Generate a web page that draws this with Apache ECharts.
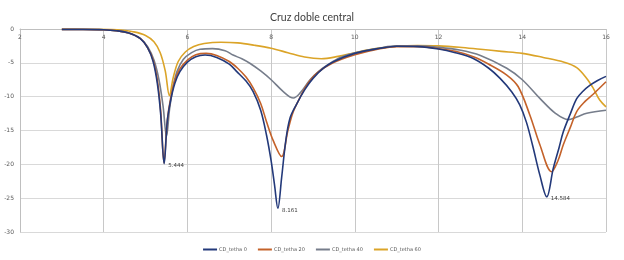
<!DOCTYPE html>
<html>
<head>
<meta charset="utf-8">
<script src="https://cdn.jsdelivr.net/npm/echarts@6/dist/echarts.min.js"></script>
<style>
  html, body { margin: 0; padding: 0; background: #fff; }
  #chart { width: 624px; height: 260px; }
</style>
</head>
<body>
<div id="chart"></div>
<script>
'use strict';

var seriesNames = ['CD_tetha 0', 'CD_tetha 20', 'CD_tetha 40', 'CD_tetha 60'];
var seriesColors = ['#23397a', '#c4622a', '#767d8b', '#dba428'];

// frequency (x) and level (y), one pair of arrays per curve
var freq0 = [3.0, 3.5, 4.0, 4.3, 4.6, 4.87, 5.05, 5.18, 5.28, 5.36, 5.444, 5.52, 5.6, 5.7, 5.82, 6.0, 6.2, 6.42, 6.7, 7.0, 7.18, 7.4, 7.57, 7.75, 7.89, 8.0, 8.08, 8.161, 8.25, 8.35, 8.45, 8.6, 8.8, 9.0, 9.25, 9.5, 10.0, 10.6, 11.0, 11.5, 12.0, 12.4, 12.83, 13.2, 13.47, 13.75, 13.94, 14.1, 14.25, 14.42, 14.584, 14.74, 14.88, 14.98, 15.15, 15.3, 15.45, 15.62, 15.8, 16.0];
var level0 = [-0.05, -0.05, -0.1, -0.25, -0.6, -1.4, -2.8, -4.8, -8, -12.5, -19.9, -13.5, -10.5, -8, -6.3, -4.9, -4.1, -3.85, -4.2, -5.2, -6.3, -7.7, -9.25, -12, -15.7, -19.5, -23, -26.5, -22, -16.5, -13.2, -11.2, -9, -7.3, -5.8, -4.8, -3.6, -2.85, -2.55, -2.6, -2.95, -3.5, -4.35, -5.8, -7.3, -9.3, -11.2, -13.8, -17.3, -21.6, -24.8, -20.6, -17.5, -15.2, -12.5, -10.3, -9.2, -8.3, -7.6, -7.0];

var freq20 = [3.0, 3.5, 4.0, 4.3, 4.6, 4.87, 5.05, 5.18, 5.28, 5.36, 5.44, 5.52, 5.6, 5.7, 5.82, 6.0, 6.2, 6.45, 6.7, 7.0, 7.2, 7.4, 7.57, 7.75, 7.89, 8.05, 8.25, 8.4, 8.53, 8.7, 8.85, 9.1, 9.48, 10.0, 10.6, 11.0, 11.5, 12.0, 12.4, 12.83, 13.2, 13.63, 13.9, 14.18, 14.42, 14.7, 14.85, 14.98, 15.15, 15.3, 15.5, 15.7, 16.0];
var level20 = [-0.05, -0.05, -0.1, -0.25, -0.6, -1.4, -2.8, -4.6, -7.5, -12, -19.8, -13.5, -10.2, -7.6, -5.9, -4.6, -3.8, -3.6, -3.9, -4.8, -5.8, -7.1, -8.7, -11, -13.7, -16.5, -18.85, -15, -12.2, -10, -8.3, -6.5, -5.0, -3.8, -2.9, -2.6, -2.6, -2.9, -3.3, -4.1, -5.2, -6.8, -8.5, -12.7, -17.1, -21.1, -19.5, -17.1, -14.5, -12.2, -10.7, -9.6, -7.8];

var freq40 = [3.0, 3.5, 4.0, 4.3, 4.6, 4.87, 5.05, 5.2, 5.32, 5.42, 5.5, 5.57, 5.65, 5.75, 5.9, 6.1, 6.3, 6.6, 6.9, 7.09, 7.3, 7.5, 7.75, 8.0, 8.29, 8.53, 8.7, 8.93, 9.15, 9.33, 9.65, 10.0, 10.6, 11.0, 11.5, 12.0, 12.5, 13.0, 13.63, 14.0, 14.42, 14.8, 15.1, 15.3, 15.54, 16.0];
var level40 = [-0.05, -0.05, -0.1, -0.25, -0.6, -1.4, -2.6, -4.6, -7.5, -11.5, -15.9, -12, -8.8, -6.3, -4.5, -3.5, -3.0, -2.9, -3.2, -3.85, -4.4, -5.1, -6.2, -7.5, -9.25, -10.2, -9.4, -7.5, -6.2, -5.4, -4.2, -3.5, -2.8, -2.5, -2.5, -2.7, -3.1, -3.9, -5.8, -7.5, -10.25, -12.5, -13.4, -13.0, -12.45, -12.0];

var freq60 = [3.0, 3.5, 4.0, 4.4, 4.7, 5.0, 5.2, 5.35, 5.47, 5.57, 5.66, 5.78, 5.95, 6.15, 6.4, 6.8, 7.2, 7.6, 8.0, 8.4, 8.8, 9.2, 9.6, 10.0, 10.5, 11.0, 11.5, 12.0, 12.5, 13.0, 13.5, 14.0, 14.5, 15.0, 15.3, 15.54, 15.7, 15.85, 16.0];
var level60 = [-0.02, -0.03, -0.05, -0.15, -0.4, -0.95, -1.9, -3.5, -6.2, -9.85, -7.2, -4.8, -3.4, -2.6, -2.15, -1.95, -2.05, -2.4, -2.85, -3.5, -4.15, -4.4, -4.05, -3.5, -2.9, -2.55, -2.45, -2.5, -2.7, -3.0, -3.3, -3.6, -4.2, -4.9, -5.7, -7.3, -8.8, -10.5, -11.5];

// minima of CD_tetha 0 that carry a text label
var markedFreqs = [5.444, 8.161, 14.584];
var markedLevels = [-19.9, -26.5, -24.8];

var xTicks = { min: 2, max: 16, step: 2 };
var yTicks = { min: -30, max: 0, step: 5 };

var allFreqs = [freq0, freq20, freq40, freq60];
var allLevels = [level0, level20, level40, level60];

function pairs(freqs, levels){
    return freqs.map(function(f, i){ return [f, levels[i]]; });
}

var myChart = echarts.init(document.getElementById('chart'), null, { renderer: 'canvas' });

var option = {
    animation: false,
    backgroundColor: '#fff',
    title: {
        text: 'Cruz doble central',
        left: 'center',
        top: 7,
        textStyle: { fontSize: 10.5, fontWeight: 'normal', color: '#404040', fontFamily: 'Lato' }
    },
    legend: {
        top: 242,
        left: 'center',
        itemWidth: 14,
        itemHeight: 2,
        itemGap: 11,
        icon: 'rect',
        textStyle: { fontSize: 5, color: '#595959', fontFamily: 'DejaVu Sans', padding: [0, 0, 0, -3] },
        data: seriesNames
    },
    grid: { left: 20, right: 18, top: 29, bottom: 28, containLabel: false },
    xAxis: {
        type: 'value',
        position: 'top',
        min: xTicks.min,
        max: xTicks.max,
        interval: xTicks.step,
        axisLine: { show: true, lineStyle: { color: '#bfbfbf' } },
        axisTick: { show: false },
        axisLabel: { inside: true, fontSize: 6, color: '#595959', margin: 5, fontFamily: 'DejaVu Sans' },
        splitLine: { show: true, lineStyle: { color: '#c8c8c8' } }
    },
    yAxis: {
        type: 'value',
        min: yTicks.min,
        max: yTicks.max,
        interval: yTicks.step,
        axisLine: { show: true, lineStyle: { color: '#bfbfbf' } },
        axisTick: { show: false },
        axisLabel: { fontSize: 6, color: '#595959', margin: 6, fontFamily: 'DejaVu Sans' },
        splitLine: { show: true, lineStyle: { color: '#d9d9d9' } }
    },
    series: seriesNames.map(function(name, k){
        var s = {
            name: name,
            type: 'line',
            smooth: 0.35,
            showSymbol: false,
            symbol: 'none',
            color: seriesColors[k],
            lineStyle: { width: 1.6, color: seriesColors[k] },
            z: 2 + (3 - k),
            data: pairs(allFreqs[k], allLevels[k])
        };
        if(k === 0){
            s.markPoint = {
                symbol: 'circle',
                symbolSize: 0,
                silent: true,
                label: {
                    show: true,
                    position: 'right',
                    distance: 4,
                    offset: [0, 2],
                    formatter: function(p){ return String(p.value); },
                    fontSize: 5.5,
                    color: '#404040',
                    fontFamily: 'DejaVu Sans'
                },
                data: markedFreqs.map(function(f, i){
                    return { coord: [f, markedLevels[i]], value: f };
                })
            };
        }
        return s;
    })
};

myChart.setOption(option);
</script>
</body>
</html>
